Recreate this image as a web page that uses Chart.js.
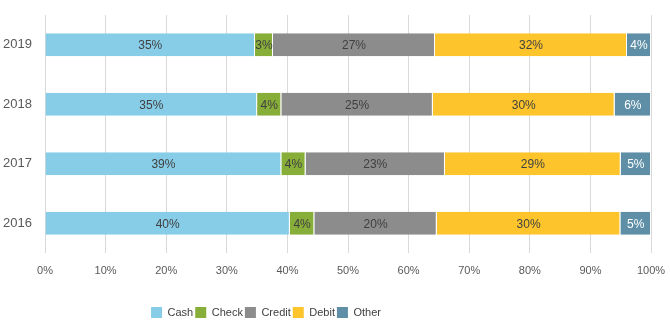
<!DOCTYPE html>
<html>
<head>
<meta charset="utf-8">
<script src="https://cdn.jsdelivr.net/npm/chart.js@4.4.1/dist/chart.umd.min.js"></script>
<style>
  html, body { margin: 0; padding: 0; background: #fff; }
  #wrap { width: 670px; height: 330px; position: relative; }
</style>
</head>
<body>
<div id="wrap"><canvas id="payChart"></canvas></div>
<script>
// Jahre (oben nach unten)
const years = ["2019", "2018", "2017", "2016"];

// Anteile in Prozent, wie in den Balken beschriftet
const cash = [35, 35, 39, 40];
const check = [3, 4, 4, 4];
const credit = [27, 25, 23, 20];
const debit = [32, 30, 29, 30];
const other = [4, 6, 5, 5];

const xTicks = ["0%", "10%", "20%", "30%", "40%", "50%", "60%", "70%", "80%", "90%", "100%"];

const seriesNames = ["Cash", "Check", "Credit", "Debit", "Other"];
const seriesColors = ["#87CDE8", "#88AE3A", "#8C8C8C", "#FDC52B", "#5E8FA6"];
const labelColors = ["#404040", "#404040", "#404040", "#404040", "#ffffff"];

const allSeries = [cash, check, credit, debit, other];

// 100%-Stapel: jede Zeile auf ihre Summe normieren
const totals = years.map((_, j) => allSeries.reduce((s, arr) => s + arr[j], 0));

// Beschriftungen mittig in den Segmenten
const barLabels = {
  id: "barLabels",
  afterDatasetsDraw(chart) {
    const ctx = chart.ctx;
    ctx.save();
    ctx.font = "12px 'Liberation Sans', Arial, sans-serif";
    ctx.textAlign = "center";
    ctx.textBaseline = "middle";
    chart.data.datasets.forEach((ds, i) => {
      const meta = chart.getDatasetMeta(i);
      meta.data.forEach((bar, j) => {
        const p = bar.getProps(["x", "y", "base"], true);
        ctx.fillStyle = labelColors[i];
        ctx.fillText(allSeries[i][j] + "%", (p.x + p.base) / 2, p.y + 1);
      });
    });
    ctx.restore();
  }
};

// Legende etwas nach links schieben (wie im Original)
const legendShift = {
  id: "legendShift",
  afterLayout(chart) {
    const lg = chart.legend;
    if (!lg) return;
    lg.left = 0;
    lg.right = 532;
  }
};

new Chart(document.getElementById("payChart"), {
  type: "bar",
  data: {
    labels: years,
    datasets: allSeries.map((arr, i) => ({
      label: seriesNames[i],
      data: arr.map((v, j) => v / totals[j] * 100),
      backgroundColor: seriesColors[i],
      borderColor: "rgba(255,255,255,0.6)",
      borderWidth: { left: 0, right: 1, top: 0, bottom: 0 },
      borderSkipped: false,
      barPercentage: 0.39,
      categoryPercentage: 1
    }))
  },
  options: {
    indexAxis: "y",
    responsive: true,
    maintainAspectRatio: false,
    animation: false,
    layout: { padding: { top: 15, right: 19, left: 0, bottom: 2 } },
    scales: {
      x: {
        stacked: true,
        min: 0,
        max: 100,
        grid: { color: "#D9D9D9", drawTicks: false },
        border: { display: false },
        ticks: {
          stepSize: 10,
          padding: 11,
          color: "#595959",
          font: { family: "'Liberation Sans', sans-serif", size: 11 },
          callback: (v, idx) => xTicks[idx]
        },
        afterFit: (scale) => {
          scale.height = 52;
          scale.paddingLeft = 0;
          scale.paddingRight = 0;
        }
      },
      y: {
        stacked: true,
        grid: { display: false, drawTicks: false },
        border: { display: false },
        ticks: {
          padding: 13,
          color: "#595959",
          font: { family: "'Liberation Sans', sans-serif", size: 13 }
        },
        afterFit: (scale) => {
          scale.width = 45;
          scale.paddingTop = 0;
          scale.paddingBottom = 0;
        }
      }
    },
    plugins: {
      legend: {
        position: "bottom",
        labels: {
          boxWidth: 11,
          boxHeight: 11,
          padding: 2,
          color: "#404040",
          font: { family: "'Liberation Sans', sans-serif", size: 11 },
          generateLabels: (chart) => chart.data.datasets.map((ds, i) => ({
            text: ds.label,
            fillStyle: seriesColors[i],
            strokeStyle: seriesColors[i],
            lineWidth: 0,
            datasetIndex: i,
            fontColor: "#404040"
          }))
        }
      },
      tooltip: { enabled: false }
    }
  },
  plugins: [barLabels, legendShift]
});
</script>
</body>
</html>
